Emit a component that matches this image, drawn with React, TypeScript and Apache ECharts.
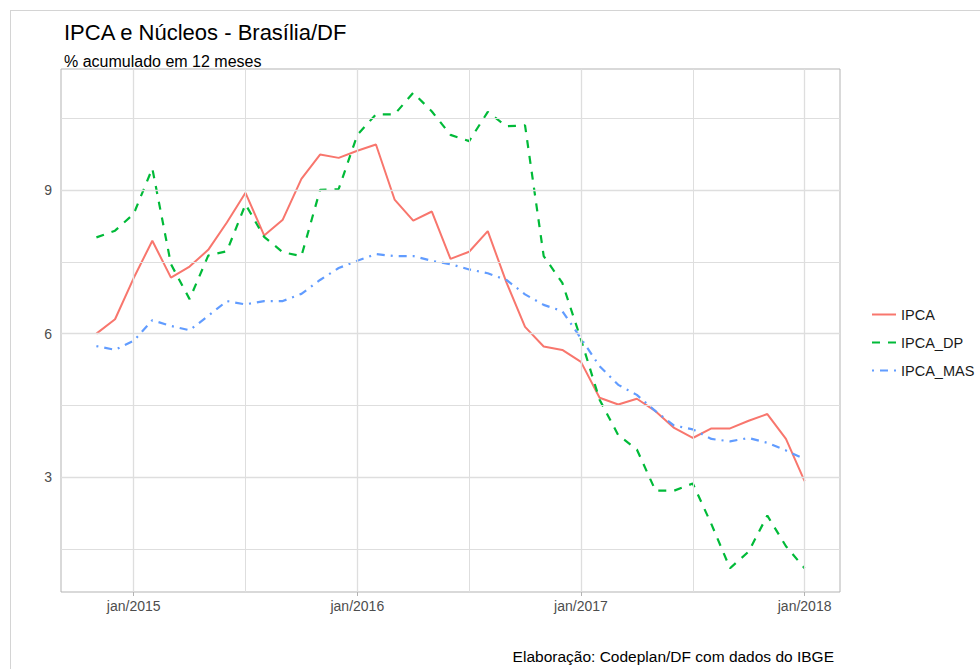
import React, { useEffect, useRef } from "react";
import * as echarts from "echarts";

const titleText = "IPCA e Núcleos - Brasília/DF";
const subtitleText = "% acumulado em 12 meses";
const captionText = "Elaboração: Codeplan/DF com dados do IBGE";

const months = [
  "2014-11", "2014-12",
  "2015-01", "2015-02", "2015-03", "2015-04", "2015-05", "2015-06",
  "2015-07", "2015-08", "2015-09", "2015-10", "2015-11", "2015-12",
  "2016-01", "2016-02", "2016-03", "2016-04", "2016-05", "2016-06",
  "2016-07", "2016-08", "2016-09", "2016-10", "2016-11", "2016-12",
  "2017-01", "2017-02", "2017-03", "2017-04", "2017-05", "2017-06",
  "2017-07", "2017-08", "2017-09", "2017-10", "2017-11", "2017-12",
  "2018-01",
];

const ipca = [
  6.0, 6.3, 7.16, 7.94, 7.17, 7.4, 7.75, 8.32, 8.94, 8.05, 8.38, 9.23, 9.74,
  9.67, 9.82, 9.95, 8.8, 8.36, 8.55, 7.56, 7.71, 8.14, 7.07, 6.14, 5.73, 5.66,
  5.41, 4.66, 4.52, 4.64, 4.38, 4.03, 3.82, 4.02, 4.02, 4.18, 4.32, 3.8, 2.92,
];

const ipcaDP = [
  8.01, 8.15, 8.5, 9.45, 7.45, 6.72, 7.63, 7.72, 8.7, 8.02, 7.7, 7.62, 9.0,
  9.02, 10.15, 10.58, 10.58, 11.03, 10.64, 10.15, 10.02, 10.63, 10.33, 10.35,
  7.62, 7.06, 5.88, 4.62, 3.88, 3.58, 2.72, 2.72, 2.87, 2.02, 1.1, 1.45, 2.2,
  1.56, 1.1,
];

const ipcaMAS = [
  5.74, 5.66, 5.85, 6.28, 6.16, 6.07, 6.37, 6.68, 6.61, 6.68, 6.68, 6.83, 7.12,
  7.37, 7.52, 7.66, 7.62, 7.62, 7.52, 7.45, 7.34, 7.26, 7.12, 6.82, 6.6, 6.47,
  5.9, 5.32, 4.93, 4.72, 4.38, 4.08, 4.0, 3.8, 3.75, 3.82, 3.72, 3.56, 3.38,
];

const seriesNames = ["IPCA", "IPCA_DP", "IPCA_MAS"];

const xTickMonths = ["2015-01", "2016-01", "2017-01", "2018-01"];
const xTickLabels = ["jan/2015", "jan/2016", "jan/2017", "jan/2018"];
const xMinorMonths = ["2015-07", "2016-07", "2017-07"];
const yTicks = [3, 6, 9];
const yMinor = [1.5, 4.5, 7.5, 10.5];

// months since jan/2015
const monthIndex = (s: string) => {
  const [y, m] = s.split("-").map(Number);
  return (y - 2015) * 12 + (m - 1);
};

const FONT = "'Liberation Sans', Arial, sans-serif";

export default function App() {
  const ref = useRef<HTMLDivElement>(null);

  useEffect(() => {
    document.body.style.margin = "0";
    if (!ref.current) return;
    const chart = echarts.init(ref.current, undefined, { renderer: "svg" });

    const xs = months.map(monthIndex);
    const xTickVals = xTickMonths.map(monthIndex);
    const xMinorVals = xMinorMonths.map(monthIndex);
    const xMin = xs[0] - 0.05 * (xs[xs.length - 1] - xs[0]);
    const xMax = xs[xs.length - 1] + 0.05 * (xs[xs.length - 1] - xs[0]);
    const all = [...ipca, ...ipcaDP, ...ipcaMAS];
    const lo = Math.min(...all);
    const hi = Math.max(...all);
    const yMin = lo - 0.05 * (hi - lo);
    const yMax = hi + 0.05 * (hi - lo);

    const toPairs = (arr: number[]) => arr.map((v, i) => [xs[i], v]);

    const gridColor = "#DEDEDE";

    chart.setOption({
      animation: false,
      backgroundColor: "#ffffff",
      textStyle: { fontFamily: FONT },
      title: [
        {
          text: titleText,
          left: 59,
          top: 16,
          textStyle: { fontFamily: FONT, fontSize: 22, fontWeight: "normal", color: "#000" },
        },
        {
          text: subtitleText,
          left: 59,
          top: 48,
          textStyle: { fontFamily: FONT, fontSize: 16, fontWeight: "normal", color: "#000" },
        },
        {
          text: captionText,
          right: 141,
          top: 643,
          textStyle: { fontFamily: FONT, fontSize: 15.5, fontWeight: "normal", color: "#000" },
        },
      ],
      grid: {
        left: 61,
        right: 140,
        top: 69,
        bottom: 77,
        show: true,
        borderColor: "#B3B3B3",
        borderWidth: 1,
        backgroundColor: "#ffffff",
        outerBoundsMode: "none",
      },
      xAxis: {
        type: "value",
        min: xMin,
        max: xMax,
        splitLine: { show: false },
        axisLine: { show: false },
        axisTick: {
          show: true,
          customValues: xTickVals,
          length: 4,
          lineStyle: { color: "#B3B3B3" },
        },
        axisLabel: {
          customValues: xTickVals,
          formatter: (v: number) => xTickLabels[xTickVals.indexOf(v)] ?? "",
          color: "#4D4D4D",
          fontSize: 14,
          fontFamily: FONT,
          margin: 7,
        },
      },
      yAxis: {
        type: "value",
        min: yMin,
        max: yMax,
        splitLine: { show: false },
        axisLine: { show: false },
        axisTick: {
          show: true,
          customValues: yTicks,
          length: 4,
          lineStyle: { color: "#B3B3B3" },
        },
        axisLabel: {
          customValues: yTicks,
          color: "#4D4D4D",
          fontSize: 14,
          fontFamily: FONT,
          margin: 9,
        },
      },
      legend: {
        orient: "vertical",
        left: 866,
        top: 302,
        itemWidth: 24,
        itemHeight: 14,
        itemGap: 13,
        data: seriesNames,
        itemStyle: { opacity: 0 },
        textStyle: { fontFamily: FONT, fontSize: 14.5, color: "#1A1A1A" },
      },
      series: [
        {
          name: "grid",
          type: "line",
          data: [],
          silent: true,
          z: 1,
          markLine: {
            silent: true,
            symbol: "none",
            label: { show: false },
            lineStyle: { color: gridColor, width: 1, type: "solid" },
            data: [
              ...xTickVals.map((v) => ({ xAxis: v, lineStyle: { color: gridColor, width: 1.3, type: "solid" } })),
              ...xMinorVals.map((v) => ({ xAxis: v, lineStyle: { color: gridColor, width: 1, type: "solid" } })),
              ...yTicks.map((v) => ({ yAxis: v, lineStyle: { color: gridColor, width: 1.3, type: "solid" } })),
              ...yMinor.map((v) => ({ yAxis: v, lineStyle: { color: gridColor, width: 1, type: "solid" } })),
            ],
          },
        },
        {
          name: seriesNames[0],
          type: "line",
          data: toPairs(ipca),
          showSymbol: false,
          symbol: "none",
          z: 3,
          color: "#F8766D",
          lineStyle: { color: "#F8766D", width: 2, type: "solid" },
        },
        {
          name: seriesNames[1],
          type: "line",
          data: toPairs(ipcaDP),
          showSymbol: false,
          symbol: "none",
          z: 3,
          color: "#00BA38",
          lineStyle: { color: "#00BA38", width: 2.2, type: [8, 8] },
        },
        {
          name: seriesNames[2],
          type: "line",
          data: toPairs(ipcaMAS),
          showSymbol: false,
          symbol: "none",
          z: 3,
          color: "#619CFF",
          lineStyle: { color: "#619CFF", width: 2.2, type: [2, 6, 8, 6] },
        },
      ],
      graphic: [
        { type: "line", shape: { x1: 10, y1: 10.5, x2: 980, y2: 10.5 }, style: { stroke: "#D4D4D4", lineWidth: 1 }, silent: true },
        { type: "line", shape: { x1: 10.5, y1: 10, x2: 10.5, y2: 669 }, style: { stroke: "#D4D4D4", lineWidth: 1 }, silent: true },
      ],
    });

    return () => chart.dispose();
  }, []);

  return <div ref={ref} style={{ width: 980, height: 669 }} />;
}
